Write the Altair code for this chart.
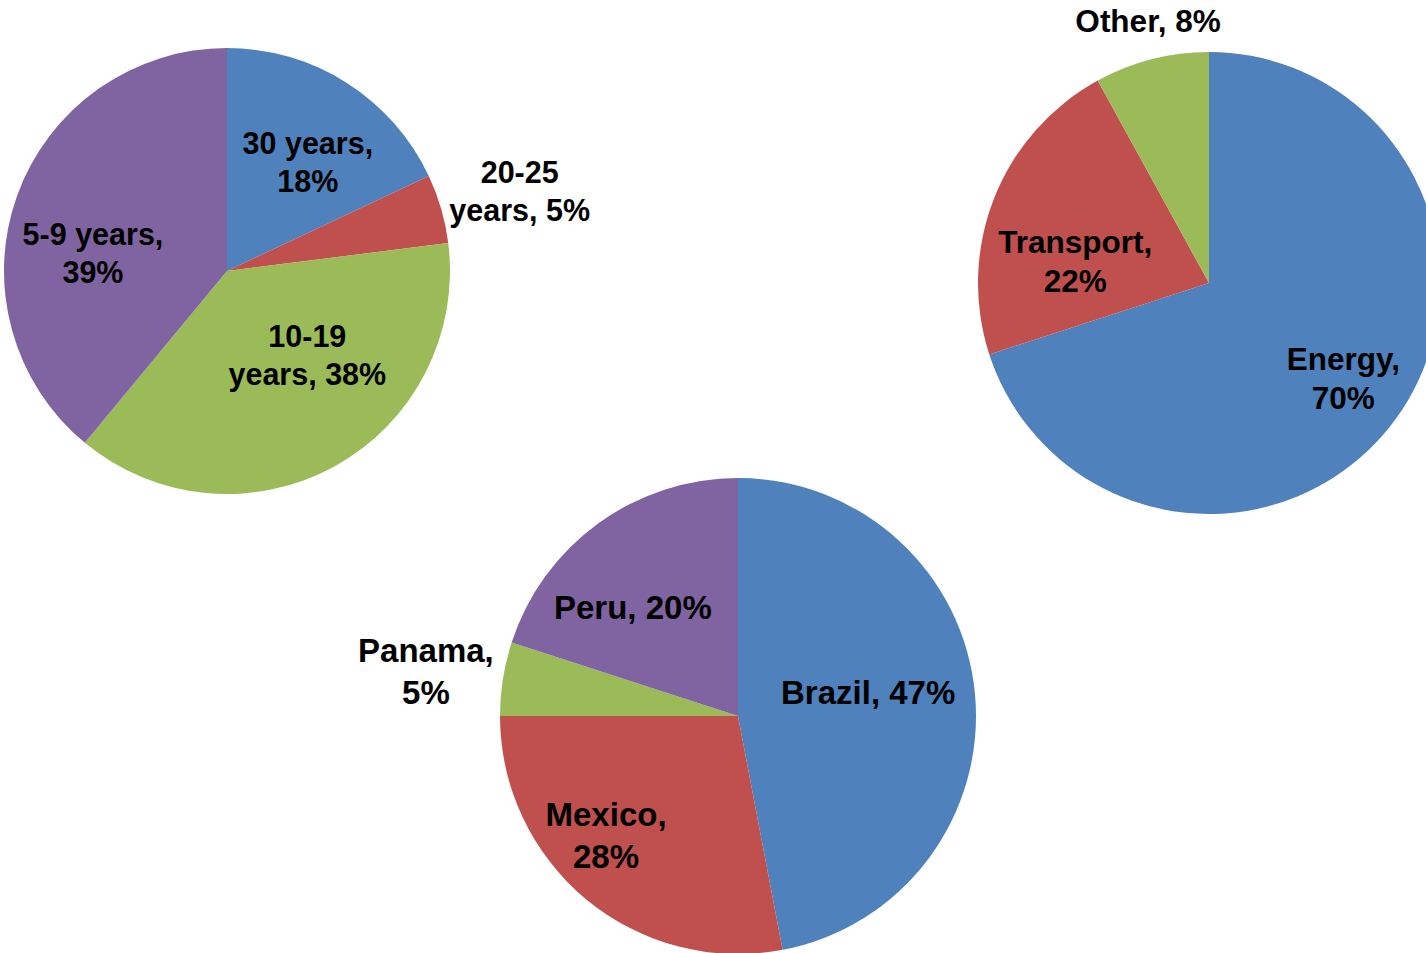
import altair as alt
import pandas as pd

# ---- data ----
tenor_labels = ["30 years,\n18%", "20-25\nyears, 5%", "10-19\nyears, 38%", "5-9 years,\n39%"]
tenor_values = [18, 5, 38, 39]

sector_labels = ["Energy,\n70%", "Transport,\n22%", "Other, 8%"]
sector_values = [70, 22, 8]

country_labels = ["Brazil, 47%", "Mexico,\n28%", "Panama,\n5%", "Peru, 20%"]
country_values = [47, 28, 5, 20]

BLUE, RED, GREEN, PURPLE = "#4F81BD", "#C0504D", "#9BBB59", "#8064A2"

# ---- layout / style ----
pies = [
    dict(labels=tenor_labels, values=tenor_values, colors=[BLUE, RED, GREEN, PURPLE],
         cx=227, cy=271, r=223, fs=30.5, lh=38,
         label_r=[134, 303, 118, 135], nudge=[4.7, 1.2, -14.1, -13.0]),
    dict(labels=sector_labels, values=sector_values, colors=[BLUE, RED, GREEN],
         cx=1209, cy=283, r=231, fs=31.5, lh=39,
         label_r=[166, 135, 267], nudge=[0.0, -13.5, 1.2]),
    dict(labels=country_labels, values=country_values, colors=[BLUE, RED, GREEN, PURPLE],
         cx=738, cy=716, r=238, fs=33, lh=42,
         label_r=[132, 179, 315, 150], nudge=[-4.2, 7.9, -1.2, -8.5]),
]

theta_scale = alt.Scale(domain=[0, 100], range=[0, 6.283185307179586])

layers = []
for p in pies:
    vals = p["values"]
    cum = []
    s = 0
    for v in vals:
        cum.append(s + v / 2)
        s += v
    df = pd.DataFrame({
        "label": p["labels"],
        "value": vals,
        "color": p["colors"],
        "idx": list(range(len(vals))),
        "mid": [m + n / 3.6 for m, n in zip(cum, p["nudge"])],
        "lr": p["label_r"],
    })
    df["nlines"] = df["label"].str.count("\n") + 1
    arcs = alt.Chart(df).mark_arc(radius=p["r"], stroke=None).encode(
        theta=alt.Theta("value:Q", stack=True, scale=theta_scale),
        color=alt.Color("color:N", scale=None),
        order=alt.Order("idx:Q"),
        x=alt.value(p["cx"]),
        y=alt.value(p["cy"]),
    )
    layers.append(arcs)
    for n in sorted(df["nlines"].unique()):
        sub = df[df["nlines"] == n]
        texts = alt.Chart(sub).mark_text(
            font="Liberation Sans", fontWeight="bold", fontSize=p["fs"], color="#000000",
            lineBreak="\n", lineHeight=p["lh"], align="center", baseline="middle",
            dy=-(int(n) - 1) * p["lh"] / 2,
        ).encode(
            theta=alt.Theta("mid:Q", stack=None, scale=theta_scale),
            radius=alt.Radius("lr:Q", scale=None),
            text="label:N",
            x=alt.value(p["cx"]),
            y=alt.value(p["cy"]),
        )
        layers.append(texts)

chart = alt.layer(*layers).properties(
    width=1426, height=953,
    autosize=alt.AutoSizeParams(type="none"),
    padding=0,
    background="white",
).configure_view(stroke=None)

chart.save("out.html", embed_options={"renderer": "svg", "actions": False})
